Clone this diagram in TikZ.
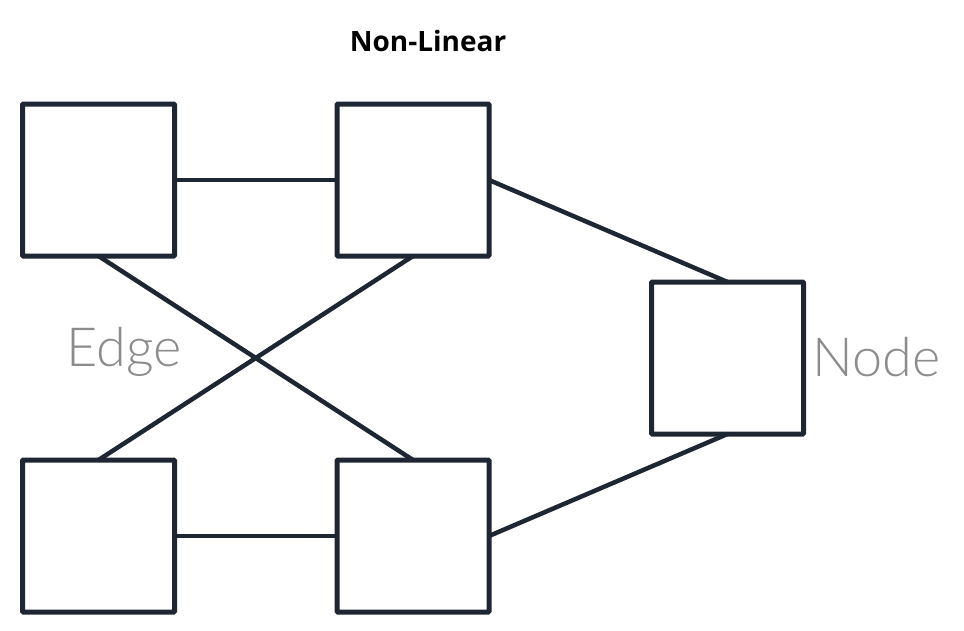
\documentclass[tikz,border=0pt]{standalone}
\usepackage{fontspec}
\setmainfont{Lato}
\newfontfamily\lightfont{Lato}[UprightFont=* Light]
\newfontfamily\titlefont{Open Sans}
\begin{document}
\begin{tikzpicture}[x=1pt,y=-1pt,
  box/.style={draw=linec, line width=5pt, rounded corners=1pt, minimum width=152pt, minimum height=152pt, inner sep=0pt, outer sep=0pt},
  link/.style={draw=linec, line width=4.5pt},
  lbl/.style={text=lblc, font=\lightfont\fontsize{54}{60}\selectfont, anchor=base, inner sep=0pt}]
\definecolor{linec}{HTML}{1F2633}
\definecolor{lblc}{HTML}{8C8C8C}
\useasboundingbox (0,0) rectangle (964,630);
\node[box] (tl) at (98.5,180) {};
\node[box] (tr) at (413,180) {};
\node[box] (r) at (727.5,358) {};
\node[box] (bl) at (98.5,536) {};
\node[box] (br) at (413,536) {};
\draw[link] (tl.east) -- (tr.west);
\draw[link] (bl.east) -- (br.west);
\draw[link] (tl.south) -- (br.north);
\draw[link] (tr.south) -- (bl.north);
\draw[link] (tr.east) -- (r.north);
\draw[link] (br.east) -- (r.south);
\node[anchor=base, inner sep=0pt, font=\titlefont\fontsize{28}{32}\selectfont\bfseries] (title) at (428,51) {Non-Linear};
\node[lbl] (edge) at (124.5,366) {Edge};
\node[lbl] (nodelbl) at (876.5,376) {Node};
\end{tikzpicture}
\end{document}
